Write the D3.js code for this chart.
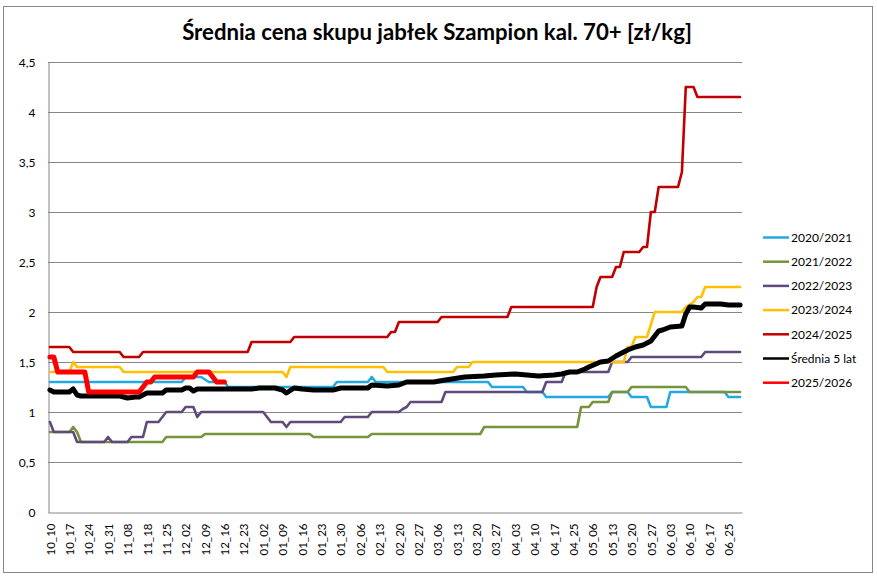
<!DOCTYPE html>
<html>
<head>
<meta charset="utf-8">
<script src="https://cdn.jsdelivr.net/npm/d3@7"></script>
<style>
    body { margin: 0; background: #fff; }
    svg { display: block; font-family: Lato, "Open Sans", sans-serif; }
</style>
</head>
<body>
<svg id="chart" width="877" height="577"></svg>
<script>
// category axis: one slot per quotation day, a label every 5th slot
var nDays = 179;
var dayLabels = ["10_10","10_17","10_24","10_31","11_08","11_18","11_25","12_02","12_09","12_16",
    "12_23","01_02","01_09","01_16","01_23","01_30","02_06","02_13","02_20","02_27",
    "03_06","03_13","03_20","03_27","04_03","04_10","04_17","04_25","05_06","05_13",
    "05_20","05_27","06_03","06_10","06_17","06_25"];
var yTicks = [0, 0.5, 1, 1.5, 2, 2.5, 3, 3.5, 4, 4.5];

// [day index, price] where the price changes
var s2020 = [[0,1.3],[34,1.3],[35,1.35],[39,1.35],[41,1.3],[45,1.3],[46,1.25],[73,1.25],[74,1.3],
    [82,1.3],[83,1.35],[84,1.3],[113,1.3],[114,1.25],[122,1.25],[123,1.2],[127,1.2],[128,1.15],
    [144,1.15],[145,1.2],[149,1.2],[150,1.15],[154,1.15],[155,1.05],[159,1.05],[160,1.2],
    [174,1.2],[175,1.15],[178,1.15]];
var s2021 = [[0,0.8],[5,0.8],[6,0.85],[7,0.8],[8,0.7],[29,0.7],[30,0.75],[39,0.75],[40,0.78],
    [67,0.78],[68,0.75],[82,0.75],[83,0.78],[111,0.78],[112,0.85],[136,0.85],[137,1.05],
    [139,1.05],[140,1.1],[144,1.1],[145,1.2],[149,1.2],[150,1.25],[164,1.25],[165,1.2],[178,1.2]];
var s2022 = [[0,0.9],[1,0.8],[6,0.8],[7,0.7],[14,0.7],[15,0.75],[16,0.7],[20,0.7],[21,0.75],
    [24,0.75],[25,0.9],[28,0.9],[30,1.0],[34,1.0],[35,1.05],[37,1.05],[38,0.95],[39,1.0],
    [55,1.0],[57,0.9],[60,0.9],[61,0.85],[62,0.9],[75,0.9],[76,0.95],[82,0.95],[83,1.0],
    [90,1.0],[91,1.03],[92,1.05],[93,1.1],[101,1.1],[102,1.2],[127,1.2],[128,1.3],[132,1.3],
    [133,1.4],[144,1.4],[145,1.5],[149,1.5],[150,1.55],[168,1.55],[169,1.6],[178,1.6]];
var s2023 = [[0,1.4],[5,1.4],[6,1.5],[7,1.45],[18,1.45],[19,1.4],[60,1.4],[61,1.35],[62,1.45],
    [86,1.45],[87,1.4],[104,1.4],[105,1.45],[108,1.45],[109,1.5],[148,1.5],[149,1.65],
    [150,1.65],[151,1.75],[154,1.75],[156,2.0],[163,2.0],[164,2.05],[166,2.1],[167,2.15],
    [168,2.15],[169,2.25],[178,2.25]];
var s2024 = [[0,1.65],[5,1.65],[6,1.6],[18,1.6],[19,1.55],[23,1.55],[24,1.6],[51,1.6],[52,1.7],
    [62,1.7],[63,1.75],[87,1.75],[88,1.8],[89,1.8],[90,1.9],[100,1.9],[101,1.95],[118,1.95],
    [119,2.05],[140,2.05],[141,2.25],[142,2.35],[145,2.35],[146,2.45],[147,2.45],[148,2.6],
    [152,2.6],[153,2.65],[154,2.65],[155,3.0],[156,3.0],[157,3.25],[162,3.25],[163,3.4],
    [164,4.25],[166,4.25],[167,4.15],[178,4.15]];
var sAvg = [[0,1.22],[1,1.2],[5,1.2],[6,1.23],[7,1.17],[8,1.16],[18,1.16],[20,1.14],[22,1.15],
    [23,1.15],[25,1.19],[29,1.19],[30,1.22],[34,1.22],[35,1.24],[36,1.24],[37,1.21],[38,1.23],
    [52,1.23],[54,1.24],[58,1.24],[60,1.22],[61,1.19],[63,1.24],[65,1.23],[68,1.22],[73,1.22],
    [75,1.24],[82,1.24],[83,1.27],[87,1.26],[90,1.27],[92,1.3],[99,1.3],[102,1.32],[107,1.35],
    [112,1.36],[115,1.37],[120,1.38],[123,1.37],[126,1.36],[130,1.37],[132,1.38],[134,1.4],
    [136,1.4],[138,1.43],[139,1.45],[142,1.5],[144,1.51],[146,1.56],[147,1.58],[149,1.62],
    [151,1.65],[153,1.67],[155,1.71],[157,1.81],[158,1.82],[160,1.85],[163,1.86],[164,1.98],
    [165,2.05],[166,2.05],[168,2.04],[169,2.08],[173,2.08],[175,2.07],[178,2.07]];
var s2025 = [[0,1.55],[1,1.55],[2,1.4],[9,1.4],[10,1.2],[23,1.2],[25,1.3],[26,1.3],[27,1.35],
    [37,1.35],[38,1.4],[41,1.4],[43,1.3],[45,1.3]];

var series = [
    {name: "2020/2021", color: "#22a9e1", width: 2.6, data: s2020},
    {name: "2021/2022", color: "#77933c", width: 2.6, data: s2021},
    {name: "2022/2023", color: "#604a7b", width: 2.6, data: s2022},
    {name: "2023/2024", color: "#ffc000", width: 2.6, data: s2023},
    {name: "2024/2025", color: "#c00000", width: 2.6, data: s2024},
    {name: "Średnia 5 lat", color: "#000000", width: 5, data: sAvg},
    {name: "2025/2026", color: "#ff0000", width: 5, data: s2025}
];

function drawChart() {
    var svg = d3.select("#chart");
    var plotLeft = 48, plotRight = 742, plotTop = 62, plotBottom = 512;

    svg.append("rect")
        .attr("x", 3.5).attr("y", 6.5)
        .attr("width", 869).attr("height", 566)
        .attr("fill", "#fff").attr("stroke", "#868686");

    var x = d3.scaleLinear().domain([-0.5, nDays - 0.5]).range([plotLeft, plotRight]);
    var y = d3.scaleLinear().domain([0, 4.5]).range([plotBottom, plotTop]);

    // gridlines
    svg.append("g").selectAll("line")
        .data(yTicks.filter(function (d) { return d > 0; }))
        .enter().append("line")
        .attr("x1", plotLeft).attr("x2", plotRight)
        .attr("y1", function (d) { return Math.round(y(d)) + 0.5; })
        .attr("y2", function (d) { return Math.round(y(d)) + 0.5; })
        .attr("stroke", "#868686");

    var yAxis = svg.append("g")
        .attr("transform", "translate(" + (plotLeft + 0.5) + ",0.5)")
        .call(d3.axisLeft(y).tickValues(yTicks).tickSize(0).tickPadding(13)
            .tickFormat(function (d) { return String(d).replace(".", ","); }));
    yAxis.select(".domain").attr("stroke", "#868686");
    yAxis.selectAll("text").attr("font-size", 12).attr("fill", "#000")
        .style("font-family", "Lato, sans-serif");

    var xAxis = svg.append("g")
        .attr("transform", "translate(0," + (plotBottom + 0.5) + ")")
        .call(d3.axisBottom(x).tickValues(d3.range(0, dayLabels.length * 5, 5)).tickSize(0)
            .tickFormat(function (d) { return dayLabels[d / 5]; }));
    xAxis.select(".domain").attr("stroke", "#868686");
    xAxis.selectAll("text")
        .attr("transform", "rotate(-90)")
        .attr("text-anchor", "end")
        .attr("x", -11).attr("y", 0).attr("dy", "0.36em")
        .attr("font-size", 11.5).attr("fill", "#000")
        .style("font-family", "Lato, sans-serif");

    var line = d3.line()
        .x(function (d) { return x(d[0]); })
        .y(function (d) { return y(d[1]); });

    svg.append("g").selectAll("path")
        .data(series)
        .enter().append("path")
        .attr("d", function (d) { return line(d.data); })
        .attr("fill", "none")
        .attr("stroke", function (d) { return d.color; })
        .attr("stroke-width", function (d) { return d.width; })
        .attr("stroke-linejoin", "round")
        .attr("stroke-linecap", "round");

    // legend
    var legend = svg.append("g").selectAll("g")
        .data(series)
        .enter().append("g")
        .attr("transform", function (d, i) { return "translate(763," + (237.5 + i * 24.2) + ")"; });
    legend.append("line")
        .attr("x1", 0).attr("x2", 26)
        .attr("stroke", function (d) { return d.color; })
        .attr("stroke-width", 2.5);
    legend.append("text")
        .attr("x", 28).attr("dy", "0.35em")
        .attr("font-size", 12)
        .text(function (d) { return d.name; });

    // title
    var title = svg.append("text")
        .attr("x", 437).attr("y", 40)
        .attr("text-anchor", "middle")
        .attr("font-size", 21).attr("font-weight", "bold")
        .text("Średnia cena skupu jabłek Szampion kal. 70+ [zł/kg]");
    var tw = title.node().getComputedTextLength();
    title.attr("font-size", 21 * 510 / tw);
}

drawChart();
</script>
</body>
</html>
